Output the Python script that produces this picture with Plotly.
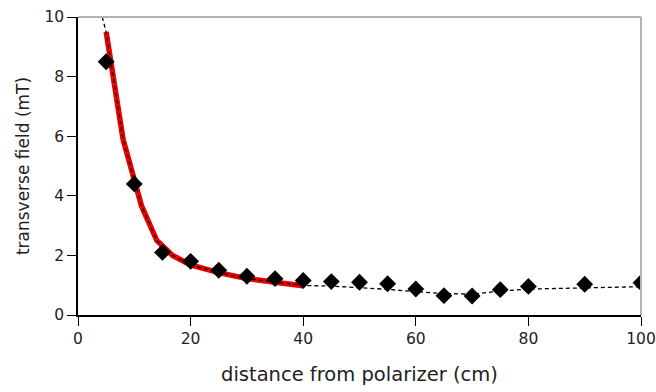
import plotly.graph_objects as go

# measured data
dist = [5, 10, 15, 20, 25, 30, 35, 40, 45, 50, 55, 60, 65, 70, 75, 80, 90, 100]
field = [8.5, 4.4, 2.1, 1.8, 1.5, 1.3, 1.22, 1.16, 1.12, 1.1, 1.05, 0.87, 0.65, 0.64, 0.85, 0.96, 1.03, 1.08]

# red fit curve
fit_x = [5, 8, 11.3, 14, 16.8, 20, 25, 30, 35, 40]
fit_y = [9.5, 5.9, 3.65, 2.5, 2.0, 1.68, 1.42, 1.22, 1.1, 0.98]

# dashed trend line
trend_x = [4.3, 5, 8, 11.3, 14, 16.8, 20, 25, 30, 35, 40, 45, 50, 55, 60, 65, 70, 75, 80, 90, 100]
trend_y = [10, 9.5, 5.9, 3.65, 2.5, 2.0, 1.68, 1.42, 1.22, 1.1, 0.99, 0.97, 0.92, 0.86, 0.78, 0.72, 0.70, 0.80, 0.87, 0.92, 0.95]

FONT = "DejaVu Sans"

fig = go.Figure()
fig.add_trace(go.Scatter(x=fit_x, y=fit_y, mode="lines",
                         line=dict(color="#ee0000", width=5.5), hoverinfo="skip"))
fig.add_trace(go.Scatter(x=trend_x, y=trend_y, mode="lines",
                         line=dict(color="black", width=1.3, dash="4px,3px"), hoverinfo="skip"))
fig.add_trace(go.Scatter(x=dist, y=field, mode="markers",
                         marker=dict(symbol="diamond", size=13, color="black")))

fig.update_layout(
    width=656, height=392,
    margin=dict(l=78, r=15, t=17, b=77, autoexpand=False),
    plot_bgcolor="white", paper_bgcolor="white",
    showlegend=False,
    font=dict(family=FONT, size=15.5, color="#222"),
    xaxis=dict(range=[0, 100], tickvals=[0, 20, 40, 60, 80, 100], showgrid=False, zeroline=False,
               showline=True, linecolor="black", linewidth=1.5, ticks="outside", ticklen=9,
               tickcolor="black", tickwidth=1.3, ticklabeloverflow="allow", automargin=False,
               title=dict(text="distance from polarizer (cm)", font=dict(size=19.5), standoff=20)),
    yaxis=dict(range=[0, 10], tickvals=[0, 2, 4, 6, 8, 10], showgrid=False, zeroline=False,
               showline=True, linecolor="black", linewidth=1.5, ticks="outside", ticklen=9,
               tickcolor="black", tickwidth=1.3, automargin=False,
               title=dict(text="transverse field (mT)", font=dict(size=17), standoff=10)),
    shapes=[
        dict(type="line", xref="paper", yref="paper", x0=0, x1=1, y0=1, y1=1,
             line=dict(color="#b3b3b3", width=2)),
        dict(type="line", xref="paper", yref="paper", x0=1, x1=1, y0=0, y1=1,
             line=dict(color="#b3b3b3", width=2)),
    ],
)

fig.write_html("out.html")
